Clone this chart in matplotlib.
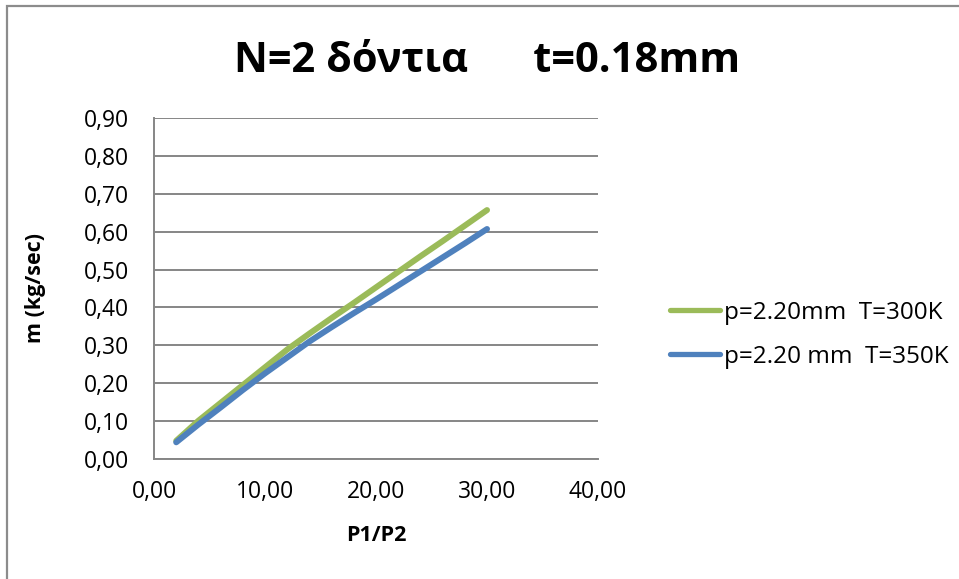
import matplotlib
matplotlib.use("Agg")
import matplotlib.pyplot as plt
from matplotlib.patches import Rectangle
from matplotlib.ticker import FuncFormatter, MultipleLocator

plt.rcParams['font.family'] = ['Open Sans', 'DejaVu Sans']

# Pressure ratio P1/P2 and mass flow rate m (kg/sec)
pressure_ratio = [2, 4, 6, 8, 10, 12, 14, 16, 18, 20, 22, 24, 26, 28, 30]
m_300K = [0.048, 0.101, 0.148, 0.195, 0.242, 0.289, 0.331, 0.372, 0.412,
          0.453, 0.494, 0.535, 0.575, 0.616, 0.657]
m_350K = [0.044, 0.091, 0.136, 0.182, 0.226, 0.268, 0.310, 0.348, 0.385,
          0.421, 0.458, 0.495, 0.532, 0.569, 0.607]
series_labels = ["p=2.20mm  T=300K", "p=2.20 mm  T=350K"]
title_text = "N=2 δόντια      t=0.18mm"
x_label = "P1/P2"
y_label = "m (kg/sec)"

green = "#9BBB59"
blue = "#4F81BD"
grid_gray = "#868686"

fig = plt.figure(figsize=(9.59, 5.79), dpi=100)
ax = fig.add_axes([0.1606, 0.2073, 0.4630, 0.5889])

ax.plot(pressure_ratio, m_300K, color=green, lw=4.3, solid_capstyle="round",
        solid_joinstyle="round", label=series_labels[0], zorder=3)
ax.plot(pressure_ratio, m_350K, color=blue, lw=4.3, solid_capstyle="round",
        solid_joinstyle="round", label=series_labels[1], zorder=3)

ax.set_xlim(0, 40)
ax.set_ylim(0, 0.9)
ax.xaxis.set_major_locator(MultipleLocator(10))
ax.yaxis.set_major_locator(MultipleLocator(0.1))
comma = FuncFormatter(lambda v, p: f"{v:.2f}".replace(".", ","))
ax.xaxis.set_major_formatter(comma)
ax.yaxis.set_major_formatter(comma)

ax.grid(axis="y", color=grid_gray, lw=1.4)
ax.set_axisbelow(True)
for side in ("top", "right"):
    ax.spines[side].set_visible(False)
for side in ("left", "bottom"):
    ax.spines[side].set_color(grid_gray)
    ax.spines[side].set_linewidth(1.4)
ax.tick_params(axis="both", length=0, labelsize=16.5, labelcolor="black")
ax.tick_params(axis="x", pad=15)
ax.tick_params(axis="y", pad=18)

ax.set_xlabel(x_label, fontsize=15.5, fontweight="bold")
ax.set_ylabel(y_label, fontsize=15.5, fontweight="bold")
ax.xaxis.label.set_va("center")
ax.yaxis.label.set_va("center")
ax.xaxis.set_label_coords(0.5, -0.223)
ax.yaxis.set_label_coords(-0.268, 0.5)

fig.text(0.508, 0.8756, title_text, ha="center", va="baseline",
         fontsize=30, fontweight="bold")

leg = ax.legend(loc="center left", bbox_to_anchor=(1.112, 0.364), frameon=False,
                fontsize=17.5, handlelength=2.06, handletextpad=0.16,
                labelspacing=0.82)
for line in leg.get_lines():
    line.set_linewidth(3.8)
    line.set_solid_capstyle("round")

# Chart area frame
fig.patches.append(Rectangle((0.0075, -0.05), 1.1, 1.04, transform=fig.transFigure,
                             fill=False, edgecolor="#8c8c8c", lw=1.6))

fig.savefig("out.png", dpi=100)
